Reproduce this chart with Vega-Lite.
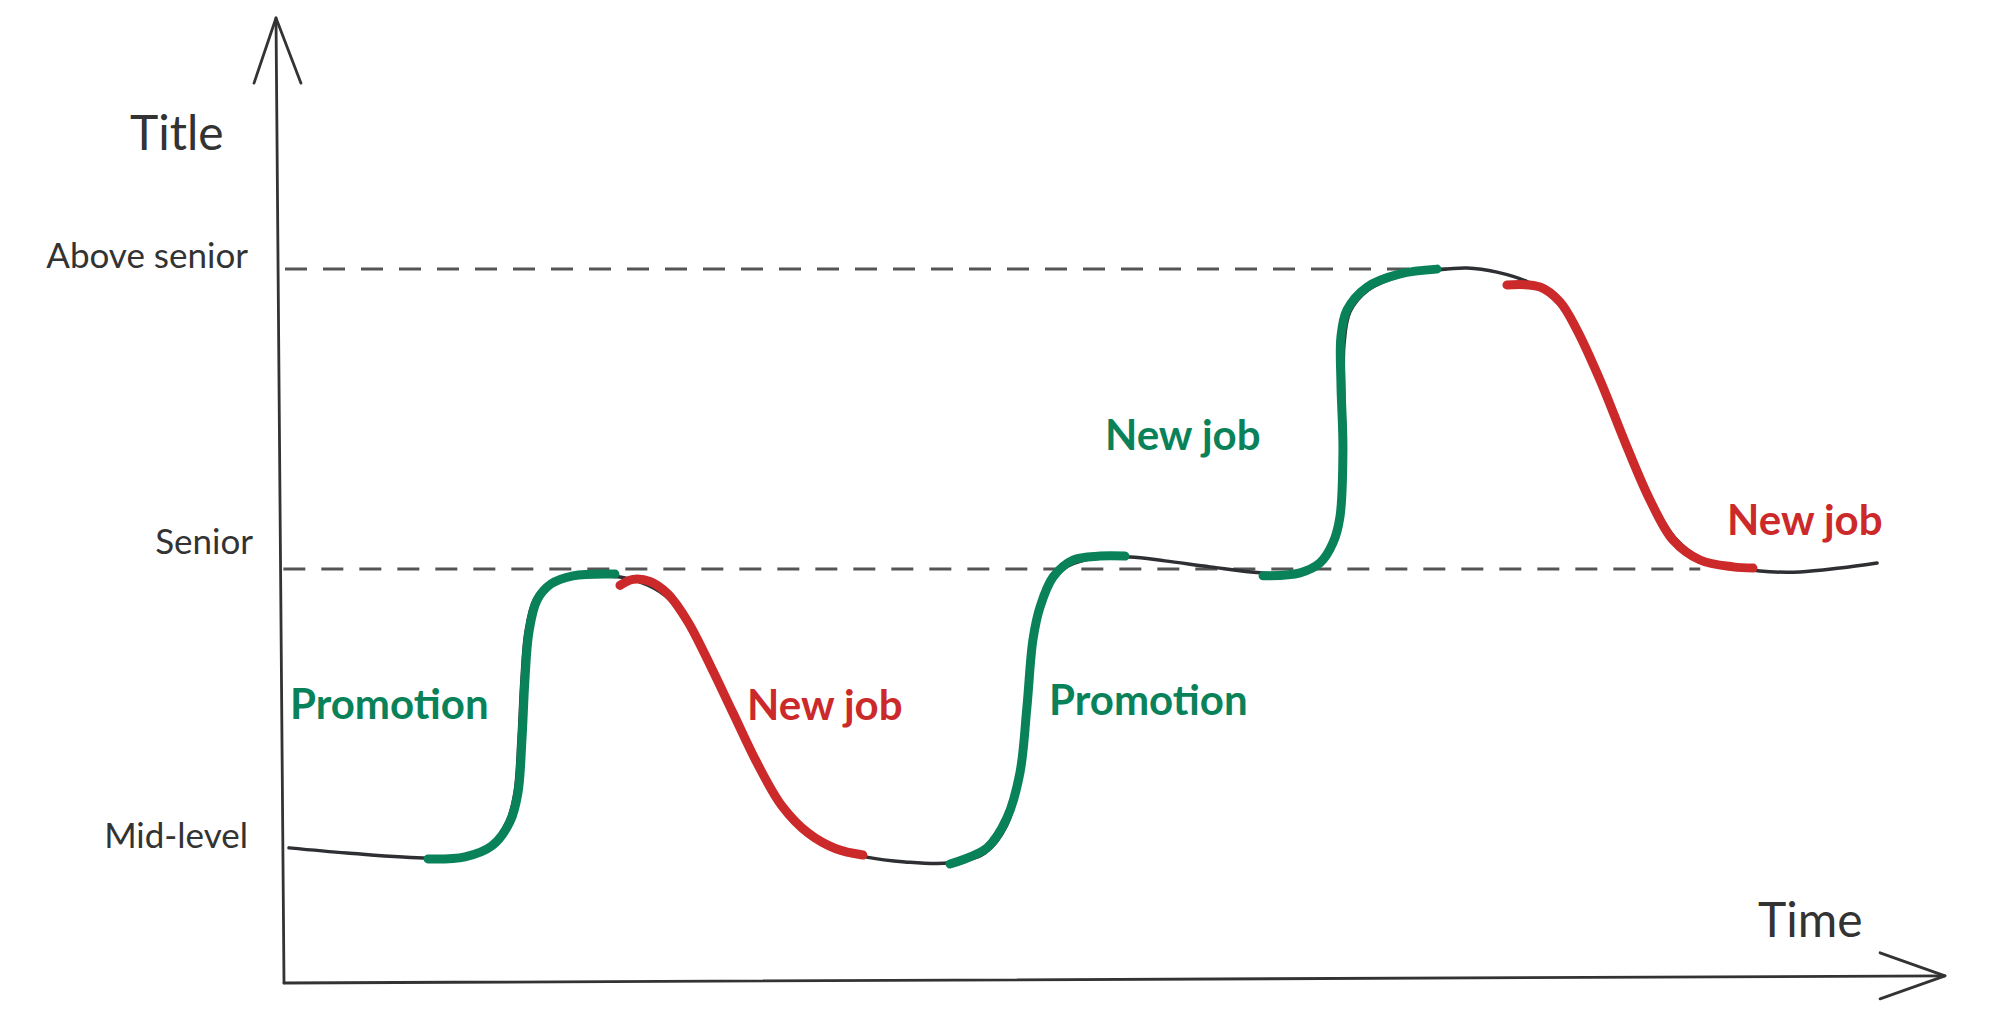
{
  "$schema": "https://vega.github.io/schema/vega-lite/v6.json",
  "width": 1665,
  "height": 965,
  "autosize": "none",
  "padding": {"left": 280, "top": 18, "right": 55, "bottom": 50},
  "background": "white",
  "config": {"view": {"stroke": null}, "font": "Lato"},
  "datasets": {
    "curve": [
      {"i": 1, "t": 0.54, "level": 1.067}, {"i": 2, "t": 4.02, "level": 1.05}, {"i": 3, "t": 8.89, "level": 1.033},
      {"i": 4, "t": 11.11, "level": 1.04}, {"i": 5, "t": 12.61, "level": 1.074}, {"i": 6, "t": 13.63, "level": 1.154},
      {"i": 7, "t": 14.11, "level": 1.251}, {"i": 8, "t": 14.35, "level": 1.428}, {"i": 9, "t": 14.53, "level": 1.629},
      {"i": 10, "t": 14.77, "level": 1.789}, {"i": 11, "t": 15.26, "level": 1.896}, {"i": 12, "t": 16.1, "level": 1.95},
      {"i": 13, "t": 17.42, "level": 1.973}, {"i": 14, "t": 19.22, "level": 1.977}, {"i": 15, "t": 20.72, "level": 1.97},
      {"i": 16, "t": 22.1, "level": 1.946}, {"i": 17, "t": 23.3, "level": 1.903}, {"i": 18, "t": 24.5, "level": 1.813},
      {"i": 19, "t": 25.71, "level": 1.679}, {"i": 20, "t": 27.03, "level": 1.528}, {"i": 21, "t": 28.41, "level": 1.368},
      {"i": 22, "t": 29.91, "level": 1.221}, {"i": 23, "t": 31.53, "level": 1.12}, {"i": 24, "t": 33.33, "level": 1.064},
      {"i": 25, "t": 35.14, "level": 1.037}, {"i": 26, "t": 37.54, "level": 1.02}, {"i": 27, "t": 40.24, "level": 1.017},
      {"i": 28, "t": 42.34, "level": 1.05}, {"i": 29, "t": 43.66, "level": 1.144}, {"i": 30, "t": 44.32, "level": 1.294},
      {"i": 31, "t": 44.74, "level": 1.528}, {"i": 32, "t": 45.05, "level": 1.729}, {"i": 33, "t": 45.41, "level": 1.846},
      {"i": 34, "t": 46.13, "level": 1.946}, {"i": 35, "t": 47.33, "level": 2.01}, {"i": 36, "t": 48.95, "level": 2.037},
      {"i": 37, "t": 51.05, "level": 2.04}, {"i": 38, "t": 53.15, "level": 2.027}, {"i": 39, "t": 55.86, "level": 2.007},
      {"i": 40, "t": 58.86, "level": 1.987}, {"i": 41, "t": 60.96, "level": 1.987}, {"i": 42, "t": 62.34, "level": 2.017},
      {"i": 43, "t": 63.24, "level": 2.08}, {"i": 44, "t": 63.72, "level": 2.174}, {"i": 45, "t": 63.96, "level": 2.365},
      {"i": 46, "t": 63.9, "level": 2.565}, {"i": 47, "t": 63.9, "level": 2.749}, {"i": 48, "t": 64.26, "level": 2.86},
      {"i": 49, "t": 65.35, "level": 2.933}, {"i": 50, "t": 67.27, "level": 2.98}, {"i": 51, "t": 69.49, "level": 3.0},
      {"i": 52, "t": 71.29, "level": 3.007}, {"i": 53, "t": 73.09, "level": 2.993}, {"i": 54, "t": 74.95, "level": 2.96},
      {"i": 55, "t": 76.46, "level": 2.906}, {"i": 56, "t": 77.78, "level": 2.816}, {"i": 57, "t": 79.28, "level": 2.639},
      {"i": 58, "t": 80.78, "level": 2.431}, {"i": 59, "t": 82.28, "level": 2.241}, {"i": 60, "t": 83.78, "level": 2.104},
      {"i": 61, "t": 85.29, "level": 2.037}, {"i": 62, "t": 87.27, "level": 2.007}, {"i": 63, "t": 88.89, "level": 1.993},
      {"i": 64, "t": 91.29, "level": 1.99}, {"i": 65, "t": 93.69, "level": 2.003}, {"i": 66, "t": 95.92, "level": 2.02}
    ],
    "highlights": [
      {"seg": "g1", "kind": "promotion", "i": 1, "t": 8.89, "level": 1.03},
      {"seg": "g1", "kind": "promotion", "i": 2, "t": 11.11, "level": 1.037},
      {"seg": "g1", "kind": "promotion", "i": 3, "t": 12.73, "level": 1.074},
      {"seg": "g1", "kind": "promotion", "i": 4, "t": 13.81, "level": 1.154},
      {"seg": "g1", "kind": "promotion", "i": 5, "t": 14.29, "level": 1.251},
      {"seg": "g1", "kind": "promotion", "i": 6, "t": 14.53, "level": 1.428},
      {"seg": "g1", "kind": "promotion", "i": 7, "t": 14.71, "level": 1.629},
      {"seg": "g1", "kind": "promotion", "i": 8, "t": 14.95, "level": 1.789},
      {"seg": "g1", "kind": "promotion", "i": 9, "t": 15.44, "level": 1.896},
      {"seg": "g1", "kind": "promotion", "i": 10, "t": 16.28, "level": 1.95},
      {"seg": "g1", "kind": "promotion", "i": 11, "t": 17.6, "level": 1.977},
      {"seg": "g1", "kind": "promotion", "i": 12, "t": 20.12, "level": 1.983},
      {"seg": "r1", "kind": "new job", "i": 1, "t": 20.42, "level": 1.945},
      {"seg": "r1", "kind": "new job", "i": 2, "t": 21.2, "level": 1.965},
      {"seg": "r1", "kind": "new job", "i": 3, "t": 22.22, "level": 1.958},
      {"seg": "r1", "kind": "new job", "i": 4, "t": 23.3, "level": 1.916},
      {"seg": "r1", "kind": "new job", "i": 5, "t": 24.5, "level": 1.823},
      {"seg": "r1", "kind": "new job", "i": 6, "t": 25.83, "level": 1.679},
      {"seg": "r1", "kind": "new job", "i": 7, "t": 27.21, "level": 1.518},
      {"seg": "r1", "kind": "new job", "i": 8, "t": 28.65, "level": 1.351},
      {"seg": "r1", "kind": "new job", "i": 9, "t": 30.15, "level": 1.207},
      {"seg": "r1", "kind": "new job", "i": 10, "t": 31.71, "level": 1.117},
      {"seg": "r1", "kind": "new job", "i": 11, "t": 33.39, "level": 1.064},
      {"seg": "r1", "kind": "new job", "i": 12, "t": 35.01, "level": 1.043},
      {"seg": "g2", "kind": "promotion", "i": 1, "t": 40.24, "level": 1.013},
      {"seg": "g2", "kind": "promotion", "i": 2, "t": 42.46, "level": 1.067},
      {"seg": "g2", "kind": "promotion", "i": 3, "t": 43.66, "level": 1.167},
      {"seg": "g2", "kind": "promotion", "i": 4, "t": 44.44, "level": 1.318},
      {"seg": "g2", "kind": "promotion", "i": 5, "t": 44.86, "level": 1.538},
      {"seg": "g2", "kind": "promotion", "i": 6, "t": 45.22, "level": 1.763},
      {"seg": "g2", "kind": "promotion", "i": 7, "t": 45.65, "level": 1.873},
      {"seg": "g2", "kind": "promotion", "i": 8, "t": 46.43, "level": 1.973},
      {"seg": "g2", "kind": "promotion", "i": 9, "t": 47.63, "level": 2.03},
      {"seg": "g2", "kind": "promotion", "i": 10, "t": 49.25, "level": 2.043},
      {"seg": "g2", "kind": "promotion", "i": 11, "t": 50.75, "level": 2.043},
      {"seg": "g3", "kind": "promotion", "i": 1, "t": 59.04, "level": 1.977},
      {"seg": "g3", "kind": "promotion", "i": 2, "t": 61.26, "level": 1.987},
      {"seg": "g3", "kind": "promotion", "i": 3, "t": 62.46, "level": 2.02},
      {"seg": "g3", "kind": "promotion", "i": 4, "t": 63.24, "level": 2.087},
      {"seg": "g3", "kind": "promotion", "i": 5, "t": 63.66, "level": 2.174},
      {"seg": "g3", "kind": "promotion", "i": 6, "t": 63.84, "level": 2.398},
      {"seg": "g3", "kind": "promotion", "i": 7, "t": 63.72, "level": 2.622},
      {"seg": "g3", "kind": "promotion", "i": 8, "t": 63.72, "level": 2.776},
      {"seg": "g3", "kind": "promotion", "i": 9, "t": 64.08, "level": 2.866},
      {"seg": "g3", "kind": "promotion", "i": 10, "t": 65.29, "level": 2.943},
      {"seg": "g3", "kind": "promotion", "i": 11, "t": 67.27, "level": 2.987},
      {"seg": "g3", "kind": "promotion", "i": 12, "t": 69.49, "level": 3.003},
      {"seg": "r2", "kind": "new job", "i": 1, "t": 73.69, "level": 2.95},
      {"seg": "r2", "kind": "new job", "i": 2, "t": 75.68, "level": 2.943},
      {"seg": "r2", "kind": "new job", "i": 3, "t": 76.88, "level": 2.893},
      {"seg": "r2", "kind": "new job", "i": 4, "t": 77.9, "level": 2.799},
      {"seg": "r2", "kind": "new job", "i": 5, "t": 79.28, "level": 2.632},
      {"seg": "r2", "kind": "new job", "i": 6, "t": 80.9, "level": 2.408},
      {"seg": "r2", "kind": "new job", "i": 7, "t": 82.28, "level": 2.231},
      {"seg": "r2", "kind": "new job", "i": 8, "t": 83.66, "level": 2.097},
      {"seg": "r2", "kind": "new job", "i": 9, "t": 85.29, "level": 2.03},
      {"seg": "r2", "kind": "new job", "i": 10, "t": 87.27, "level": 2.007},
      {"seg": "r2", "kind": "new job", "i": 11, "t": 88.47, "level": 2.003}
    ],
    "axes": [
      {"part": "yaxis", "i": 1, "t": 0.24, "level": 0.615},
      {"part": "yaxis", "i": 2, "t": -0.24, "level": 3.843},
      {"part": "yhead", "i": 1, "t": -1.56, "level": 3.625},
      {"part": "yhead", "i": 2, "t": -0.24, "level": 3.843},
      {"part": "yhead", "i": 3, "t": 1.26, "level": 3.625},
      {"part": "xaxis", "i": 1, "t": 0.24, "level": 0.615},
      {"part": "xaxis", "i": 2, "t": 100.0, "level": 0.639},
      {"part": "xhead", "i": 1, "t": 96.1, "level": 0.716},
      {"part": "xhead", "i": 2, "t": 100.0, "level": 0.639},
      {"part": "xhead", "i": 3, "t": 96.1, "level": 0.562}
    ],
    "levels": [
      {"name": "Senior", "level": 2.0, "t0": 0.2, "t1": 85.3},
      {"name": "Above senior", "level": 3.003, "t0": 0.3, "t1": 70.3}
    ],
    "levelLabels": [
      {"text": "Above senior", "t": -1.92, "level": 3.007},
      {"text": "Senior", "t": -1.62, "level": 2.05},
      {"text": "Mid-level", "t": -1.92, "level": 1.067}
    ],
    "notes": [
      {"text": "Promotion", "kind": "promotion", "t": 0.6, "level": 1.498},
      {"text": "New job", "kind": "new job", "t": 28.05, "level": 1.495},
      {"text": "Promotion", "kind": "promotion", "t": 46.19, "level": 1.512},
      {"text": "New job", "kind": "promotion", "t": 49.55, "level": 2.398},
      {"text": "New job", "kind": "new job", "t": 86.91, "level": 2.114}
    ],
    "axisTitles": [
      {"text": "Title", "t": -9.01, "level": 3.401},
      {"text": "Time", "t": 88.77, "level": 0.769}
    ]
  },
  "encoding": {
    "x": {"field": "t", "type": "quantitative", "scale": {"domain": [0, 100], "nice": false, "zero": false}, "axis": null},
    "y": {"field": "level", "type": "quantitative", "scale": {"domain": [0.615, 3.843], "nice": false, "zero": false}, "axis": null}
  },
  "layer": [
    {
      "data": {"name": "axes"},
      "mark": {"type": "line", "color": "#333333", "strokeWidth": 2.8, "strokeCap": "round", "strokeJoin": "round"},
      "encoding": {
        "detail": {"field": "part", "type": "nominal"},
        "order": {"field": "i", "type": "quantitative"}
      }
    },
    {
      "data": {"name": "levels"},
      "mark": {"type": "rule", "color": "#555555", "strokeWidth": 3, "strokeDash": [22, 16]},
      "encoding": {
        "x": {"field": "t0", "type": "quantitative"},
        "x2": {"field": "t1"},
        "y": {"field": "level", "type": "quantitative"}
      }
    },
    {
      "data": {"name": "curve"},
      "mark": {"type": "line", "color": "#2d2f33", "strokeWidth": 3.5, "interpolate": "catmull-rom", "strokeCap": "round"},
      "encoding": {
        "order": {"field": "i", "type": "quantitative"}
      }
    },
    {
      "data": {"name": "highlights"},
      "mark": {"type": "line", "strokeWidth": 9, "interpolate": "catmull-rom", "strokeCap": "round", "strokeJoin": "round"},
      "encoding": {
        "detail": {"field": "seg", "type": "nominal"},
        "order": {"field": "i", "type": "quantitative"},
        "color": {"field": "kind", "type": "nominal", "scale": {"domain": ["promotion", "new job"], "range": ["#0a8259", "#cc2a2a"]}, "legend": null}
      }
    },
    {
      "data": {"name": "levelLabels"},
      "mark": {"type": "text", "align": "right", "baseline": "alphabetic", "fontSize": 35, "color": "#333333"},
      "encoding": {"text": {"field": "text"}}
    },
    {
      "data": {"name": "notes"},
      "mark": {"type": "text", "align": "left", "baseline": "alphabetic", "fontSize": 42, "fontWeight": "bold"},
      "encoding": {
        "text": {"field": "text"},
        "color": {"field": "kind", "type": "nominal", "scale": {"domain": ["promotion", "new job"], "range": ["#0a8259", "#cc2a2a"]}, "legend": null}
      }
    },
    {
      "data": {"name": "axisTitles"},
      "mark": {"type": "text", "align": "left", "baseline": "alphabetic", "fontSize": 48, "color": "#333333"},
      "encoding": {"text": {"field": "text"}}
    }
  ]
}
